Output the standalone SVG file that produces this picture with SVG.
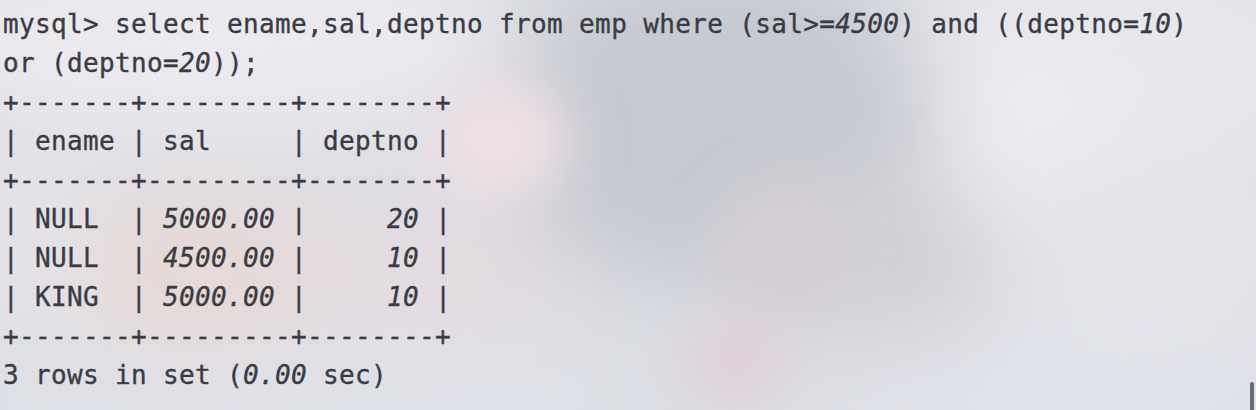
<svg xmlns="http://www.w3.org/2000/svg" width="1256" height="410" viewBox="0 0 1256 410">
  <defs>
    <filter id="blur" x="-50%" y="-50%" width="200%" height="200%">
      <feGaussianBlur stdDeviation="45"/>
    </filter>
    <filter id="blur2" x="-50%" y="-50%" width="200%" height="200%">
      <feGaussianBlur stdDeviation="25"/>
    </filter>
  </defs>
  <style>
    .t { font-family: "DejaVu Sans Mono", "Liberation Mono", monospace; font-size: 26px; letter-spacing: 0.35px; fill: #3a3c43; stroke: #3a3c43; stroke-width: 0.35px; white-space: pre; }
    .n { font-style: italic; }
  </style>
  <g id="background">
    <rect x="0" y="0" width="1256" height="410" fill="#dcdee4"/>
    <g filter="url(#blur)">
      <ellipse cx="220" cy="40" rx="300" ry="90" fill="#eceaee"/>
      <ellipse cx="1100" cy="60" rx="240" ry="110" fill="#e8e7ec"/>
      <ellipse cx="1000" cy="130" rx="120" ry="70" fill="#eeecf1"/>
      <ellipse cx="1150" cy="250" rx="160" ry="120" fill="#e4e5eb"/>
      <ellipse cx="720" cy="120" rx="220" ry="170" fill="#c6c9d1"/>
      <ellipse cx="870" cy="260" rx="130" ry="90" fill="#d2d0d6"/>
      <ellipse cx="200" cy="270" rx="160" ry="80" fill="#e7d9d7"/>
      <ellipse cx="430" cy="270" rx="140" ry="70" fill="#e4dbe0"/>
      <ellipse cx="30" cy="240" rx="50" ry="90" fill="#e6e5ea"/>
      <ellipse cx="300" cy="400" rx="330" ry="50" fill="#dfe2e9"/>
      <ellipse cx="1050" cy="390" rx="250" ry="60" fill="#e1e3ea"/>
    </g>
    <g filter="url(#blur2)">
      <ellipse cx="500" cy="140" rx="70" ry="60" fill="#efe0e5"/>
      <ellipse cx="735" cy="360" rx="55" ry="45" fill="#dfcfdb"/>
      <ellipse cx="780" cy="250" rx="60" ry="60" fill="#d6ced4"/>
    </g>
  </g>
  <g id="terminal-text">
    <text class="t" x="3" y="33" xml:space="preserve">mysql&gt; select ename,sal,deptno from emp where (sal&gt;=<tspan class="n">4500</tspan>) and ((deptno=<tspan class="n">10</tspan>)</text>
    <text class="t" x="3" y="72" xml:space="preserve">or (deptno=<tspan class="n">20</tspan>));</text>
    <text class="t" x="3" y="111" xml:space="preserve">+-------+---------+--------+</text>
    <text class="t" x="3" y="150" xml:space="preserve">| ename | sal     | deptno |</text>
    <text class="t" x="3" y="189" xml:space="preserve">+-------+---------+--------+</text>
    <text class="t" x="3" y="228" xml:space="preserve">| NULL  | <tspan class="n">5000.00</tspan> |     <tspan class="n">20</tspan> |</text>
    <text class="t" x="3" y="267" xml:space="preserve">| NULL  | <tspan class="n">4500.00</tspan> |     <tspan class="n">10</tspan> |</text>
    <text class="t" x="3" y="306" xml:space="preserve">| KING  | <tspan class="n">5000.00</tspan> |     <tspan class="n">10</tspan> |</text>
    <text class="t" x="3" y="345" xml:space="preserve">+-------+---------+--------+</text>
    <text class="t" x="3" y="384" xml:space="preserve">3 rows in set (<tspan class="n">0.00</tspan> sec)</text>
  </g>
  <rect id="cursor" x="1250" y="382" width="4" height="32" rx="2" fill="#676a70"/>
</svg>
